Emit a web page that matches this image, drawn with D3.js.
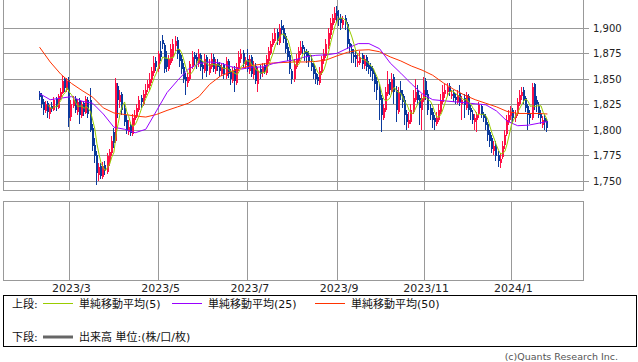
<!DOCTYPE html>
<html>
<head>
<meta charset="utf-8">
<script src="https://cdn.jsdelivr.net/npm/d3@7"></script>
<style>
  body { margin: 0; background: #fff; }
  svg { display: block; }
</style>
</head>
<body>
<svg id="chart" width="638" height="362"></svg>
<script>
// price axis ticks (yen)
const priceTicks = [1750, 1775, 1800, 1825, 1850, 1875, 1900];

// month gridlines: label + trading-day index of the first session of that month
const monthLabels = ["2023/3", "2023/5", "2023/7", "2023/9", "2023/11", "2024/1"];
const monthDays = [14, 56, 98, 140, 181, 222];

// daily candles [open, high, low, close], one per trading day
const candles = [
  [1837,1839,1830,1833],[1835,1837,1822,1826],[1828,1831,1815,1820],[1819,1829,1817,1826],[1827,1829,1812,1818],
  [1816,1825,1811,1822],[1824,1828,1818,1821],[1820,1833,1819,1830],[1831,1833,1819,1823],[1822,1836,1821,1834],
  [1833,1841,1830,1838],[1837,1853,1836,1848],[1850,1852,1838,1841],[1840,1851,1838,1848],[1849,1852,1803,1812],
  [1813,1830,1809,1826],[1824,1834,1822,1830],[1831,1834,1817,1820],[1818,1831,1815,1828],[1829,1832,1806,1815],
  [1814,1829,1812,1826],[1827,1829,1814,1818],[1817,1834,1816,1831],[1830,1833,1812,1816],[1830,1841,1798,1800],
  [1802,1806,1780,1785],[1786,1792,1768,1775],[1776,1780,1746,1758],[1756,1768,1750,1764],[1765,1768,1752,1755],
  [1754,1769,1752,1765],[1766,1770,1756,1760],[1759,1778,1757,1775],[1770,1782,1765,1779],[1778,1794,1775,1790],
  [1798,1802,1783,1788],[1790,1851,1788,1846],[1843,1846,1812,1830],[1828,1840,1822,1835],[1836,1838,1815,1820],
  [1822,1826,1804,1808],[1810,1815,1796,1800],[1798,1810,1795,1803],[1805,1808,1794,1797],[1796,1816,1794,1812],
  [1810,1820,1805,1815],[1814,1826,1812,1822],[1820,1834,1818,1830],[1832,1835,1822,1828],[1826,1840,1824,1836],
  [1835,1845,1832,1840],[1841,1849,1838,1845],[1843,1856,1840,1850],[1849,1862,1846,1858],[1856,1873,1853,1866],
  [1868,1872,1858,1862],[1860,1878,1857,1875],[1878,1888,1868,1872],[1889,1893,1880,1885],[1884,1886,1856,1860],
  [1870,1878,1857,1862],[1860,1874,1858,1870],[1866,1885,1864,1880],[1872,1890,1868,1885],[1883,1892,1878,1888],
  [1889,1891,1870,1875],[1876,1880,1862,1868],[1870,1874,1855,1860],[1862,1866,1846,1850],[1852,1856,1835,1848],
  [1846,1856,1842,1852],[1850,1868,1848,1865],[1862,1878,1860,1872],[1874,1877,1864,1870],[1872,1876,1860,1868],
  [1866,1880,1862,1875],[1874,1876,1858,1862],[1864,1868,1850,1860],[1858,1875,1856,1870],[1872,1874,1852,1858],
  [1856,1870,1854,1865],[1862,1876,1860,1870],[1872,1875,1857,1860],[1858,1870,1855,1865],[1866,1870,1858,1862],
  [1864,1867,1852,1858],[1855,1866,1853,1862],[1864,1866,1850,1855],[1853,1872,1850,1868],[1868,1870,1851,1855],
  [1857,1860,1844,1850],[1848,1862,1846,1858],[1860,1863,1838,1848],[1846,1866,1844,1862],[1860,1878,1858,1872],
  [1870,1880,1866,1875],[1876,1879,1862,1865],[1864,1872,1860,1868],[1870,1880,1857,1860],[1858,1874,1855,1870],
  [1872,1874,1852,1855],[1854,1868,1850,1862],[1863,1866,1845,1848],[1845,1862,1838,1858],[1860,1864,1850,1855],
  [1856,1866,1852,1862],[1864,1866,1855,1858],[1856,1874,1854,1870],[1868,1882,1866,1878],[1876,1888,1874,1885],
  [1884,1895,1882,1890],[1888,1900,1886,1895],[1896,1899,1884,1888],[1886,1904,1884,1900],[1902,1908,1894,1898],
  [1900,1903,1886,1890],[1892,1895,1876,1880],[1882,1886,1868,1872],[1874,1878,1855,1860],[1858,1860,1845,1850],
  [1850,1870,1847,1865],[1862,1875,1860,1870],[1868,1882,1866,1878],[1876,1888,1874,1882],[1884,1888,1875,1880],
  [1878,1882,1868,1875],[1877,1880,1866,1872],[1874,1878,1862,1868],[1866,1874,1858,1862],[1864,1866,1850,1855],
  [1856,1860,1845,1850],[1852,1855,1844,1848],[1846,1862,1844,1858],[1856,1873,1854,1870],[1868,1880,1865,1875],
  [1873,1890,1871,1885],[1883,1900,1880,1895],[1893,1910,1890,1905],[1903,1914,1898,1910],[1908,1921,1905,1915],
  [1917,1922,1906,1912],[1910,1918,1902,1908],[1910,1914,1898,1905],[1903,1912,1900,1908],[1910,1913,1898,1906],
  [1904,1906,1880,1885],[1886,1890,1876,1882],[1880,1885,1866,1876],[1874,1880,1866,1872],[1874,1878,1862,1870],
  [1866,1876,1862,1868],[1866,1878,1864,1872],[1874,1876,1860,1865],[1863,1874,1860,1870],[1872,1874,1858,1862],
  [1864,1868,1855,1860],[1862,1866,1852,1858],[1860,1863,1848,1855],[1856,1858,1838,1845],[1848,1852,1830,1840],
  [1842,1845,1810,1830],[1832,1835,1798,1815],[1812,1826,1810,1822],[1820,1842,1818,1838],[1836,1858,1834,1845],
  [1847,1850,1835,1840],[1838,1856,1836,1850],[1852,1855,1826,1838],[1840,1843,1808,1820],[1818,1842,1816,1838],
  [1840,1848,1830,1835],[1836,1840,1822,1828],[1830,1834,1805,1815],[1816,1820,1800,1808],[1806,1818,1802,1810],
  [1808,1826,1806,1820],[1818,1840,1816,1832],[1830,1850,1828,1838],[1840,1844,1826,1830],[1832,1835,1805,1822],
  [1820,1836,1800,1832],[1830,1852,1828,1840],[1848,1851,1830,1835],[1836,1840,1815,1820],[1822,1826,1810,1815],
  [1818,1822,1802,1810],[1812,1815,1800,1808],[1806,1818,1804,1812],[1810,1826,1808,1820],[1818,1836,1816,1830],
  [1828,1844,1826,1838],[1836,1845,1832,1840],[1838,1846,1834,1842],[1843,1846,1834,1838],[1834,1840,1831,1836],
  [1838,1840,1828,1832],[1833,1836,1826,1830],[1828,1840,1826,1835],[1837,1844,1824,1828],[1826,1834,1810,1830],
  [1832,1836,1812,1825],[1822,1838,1820,1835],[1834,1836,1815,1820],[1822,1825,1810,1818],[1816,1820,1806,1810],
  [1808,1816,1800,1812],[1810,1818,1798,1815],[1816,1828,1812,1825],[1824,1826,1812,1815],[1816,1818,1808,1812],
  [1813,1816,1800,1805],[1806,1808,1790,1795],[1798,1800,1784,1790],[1792,1795,1778,1782],[1780,1790,1776,1785],
  [1786,1790,1770,1775],[1776,1780,1764,1770],[1768,1778,1763,1772],[1774,1790,1772,1785],[1786,1800,1782,1795],
  [1796,1815,1794,1810],[1808,1820,1805,1815],[1814,1824,1810,1818],[1820,1822,1808,1812],[1812,1820,1808,1815],
  [1816,1832,1814,1828],[1826,1840,1824,1835],[1834,1842,1830,1838],[1840,1842,1826,1830],[1832,1834,1818,1822],
  [1824,1826,1800,1815],[1816,1820,1806,1812],[1812,1846,1810,1842],[1845,1846,1820,1825],[1830,1834,1818,1826],
  [1824,1828,1812,1815],[1816,1820,1806,1812],[1805,1814,1802,1810],[1812,1815,1800,1808],[1809,1812,1798,1802]
];

const smaDays = [0,5,10,15,20,25,30,35,40,45,50,55,60,65,70,75,80,85,90,95,100,105,110,115,120,
  125,130,135,140,145,150,155,160,165,170,175,180,185,190,195,200,205,210,215,220,225,230,235,239];
const sma25 = [1836,1830,1831.5,1833,1828.5,1826.5,1816,1803,1801,1797.6,1801,1819,1837,1849,1860,
  1865.5,1867,1866,1862.5,1860,1862,1862,1865.5,1867.5,1869,1872,1873.5,1874,1875.5,1880.5,1885,1885,
  1880,1866,1856,1845.5,1836,1830,1829,1828,1827,1826,1825,1819,1809,1804.5,1805,1807,1808.5];
const sma50 = [1881.5,1867,1855,1846,1839,1832.5,1822,1817,1815.5,1814,1813,1815.5,1819.5,1823,1826.5,
  1833,1845,1853,1857.5,1861,1863.5,1865,1866,1866.5,1867,1867,1867.5,1869,1873,1876.5,1878.5,1879,
  1877,1872,1868,1863,1859,1854,1846.5,1840,1834.5,1830,1826.5,1823,1818.5,1816.5,1816.5,1816.5,1816];

const legendTop = [
  { label: "単純移動平均(5)", color: "#99cc00", x: 43 },
  { label: "単純移動平均(25)", color: "#9900ff", x: 172 },
  { label: "単純移動平均(50)", color: "#ff3300", x: 315 }
];

const UP = "#ff1046";
const DOWN = "#0b3a9c";
const GRID = "#999999";
const FONT = "'DejaVu Sans', 'Noto Sans CJK JP', sans-serif";

const svg = d3.select("#chart");

const panel = { left: 3.5, right: 583.5, top: -1, bottom: 190.5 };
const lower = { top: 201.5, bottom: 280.5 };

const x = d3.scaleLinear().domain([14, 222]).range([69.3, 511.3]);
const y = d3.scaleLinear().domain([1750, 1900]).range([181.3, 28.3]);
const snap = v => Math.round(v - 0.5) + 0.5;

/** GRID */
const grid = svg.append("g").attr("shape-rendering", "crispEdges");

grid.selectAll("line.h")
  .data(priceTicks)
  .join("line")
  .attr("class", "h")
  .attr("x1", panel.left)
  .attr("x2", panel.right + 5)
  .attr("y1", d => snap(y(d)))
  .attr("y2", d => snap(y(d)))
  .attr("stroke", GRID);

grid.selectAll("line.v")
  .data(monthDays)
  .join("line")
  .attr("class", "v")
  .attr("x1", d => snap(x(d)))
  .attr("x2", d => snap(x(d)))
  .attr("y1", panel.top)
  .attr("y2", panel.bottom)
  .attr("stroke", GRID);

grid.selectAll("line.vl")
  .data(monthDays)
  .join("line")
  .attr("class", "vl")
  .attr("x1", d => snap(x(d)))
  .attr("x2", d => snap(x(d)))
  .attr("y1", lower.top)
  .attr("y2", lower.bottom)
  .attr("stroke", GRID);

grid.append("rect")
  .attr("x", panel.left)
  .attr("y", panel.top)
  .attr("width", panel.right - panel.left)
  .attr("height", panel.bottom - panel.top)
  .attr("fill", "none")
  .attr("stroke", GRID);

grid.append("rect")
  .attr("x", panel.left)
  .attr("y", lower.top)
  .attr("width", panel.right - panel.left)
  .attr("height", lower.bottom - lower.top)
  .attr("fill", "none")
  .attr("stroke", GRID);

/** CANDLES */
const bars = svg.append("g").attr("shape-rendering", "crispEdges");
const color = d => (d[3] > d[0] ? UP : DOWN);

bars.selectAll("rect.wick")
  .data(candles)
  .join("rect")
  .attr("class", "wick")
  .attr("x", (d, i) => Math.round(x(i)) - 1)
  .attr("width", 1)
  .attr("y", d => y(d[1]))
  .attr("height", d => y(d[2]) - y(d[1]))
  .attr("fill", color);

bars.selectAll("rect.body")
  .data(candles)
  .join("rect")
  .attr("class", "body")
  .attr("x", (d, i) => Math.round(x(i)) - 1)
  .attr("width", 2)
  .attr("y", d => y(Math.max(d[0], d[3])))
  .attr("height", d => Math.max(1, Math.abs(y(d[0]) - y(d[3]))))
  .attr("fill", color);

/** MOVING AVERAGES */
const closes = candles.map(d => d[3]);
const sma5 = closes
  .map((c, i) => (i < 4 ? null : [i, d3.mean(closes.slice(i - 4, i + 1))]))
  .filter(d => d);

const line = d3.line().x(d => x(d[0])).y(d => y(d[1]));

svg.append("path")
  .datum(smaDays.map((d, i) => [d, sma50[i]]))
  .attr("d", line)
  .attr("fill", "none")
  .attr("stroke", "#ff3300")
  .attr("stroke-width", 1);

svg.append("path")
  .datum(smaDays.map((d, i) => [d, sma25[i]]))
  .attr("d", line)
  .attr("fill", "none")
  .attr("stroke", "#9900ff")
  .attr("stroke-width", 1);

svg.append("path")
  .datum(sma5)
  .attr("d", line)
  .attr("fill", "none")
  .attr("stroke", "#99cc00")
  .attr("stroke-width", 1);

/** AXIS LABELS */
svg.append("g")
  .selectAll("text")
  .data(priceTicks)
  .join("text")
  .attr("x", 593)
  .attr("y", d => y(d))
  .attr("dy", "0.35em")
  .attr("font-family", FONT)
  .attr("font-size", 10)
  .attr("fill", "#222")
  .text(d => d3.format(",")(d));

svg.append("g")
  .selectAll("text")
  .data(monthDays)
  .join("text")
  .attr("x", d => x(d) + 2)
  .attr("y", 292)
  .attr("text-anchor", "middle")
  .attr("font-family", FONT)
  .attr("font-size", 11)
  .attr("fill", "#222")
  .text((d, i) => monthLabels[i]);

/** LEGEND */
const legend = svg.append("g").attr("font-family", FONT).attr("font-size", 11).attr("fill", "#111");

legend.append("rect")
  .attr("x", 3.5)
  .attr("y", 295.5)
  .attr("width", 633)
  .attr("height", 51)
  .attr("fill", "none")
  .attr("stroke", "#000")
  .attr("shape-rendering", "crispEdges");

legend.append("text").attr("x", 12).attr("y", 307.5).text("上段:");
legendTop.forEach(d => {
  legend.append("line")
    .attr("x1", d.x).attr("x2", d.x + 30)
    .attr("y1", 303.5).attr("y2", 303.5)
    .attr("stroke", d.color)
    .attr("shape-rendering", "crispEdges");
  legend.append("text").attr("x", d.x + 36).attr("y", 307.5).text(d.label);
});

legend.append("text").attr("x", 12).attr("y", 341).text("下段:");
legend.append("line")
  .attr("x1", 43).attr("x2", 73)
  .attr("y1", 337).attr("y2", 337)
  .attr("stroke", "#666")
  .attr("stroke-width", 3);
legend.append("text").attr("x", 79).attr("y", 341).text("出来高 単位:(株/口/枚)");

svg.append("text")
  .attr("x", 618)
  .attr("y", 360)
  .attr("text-anchor", "end")
  .attr("font-family", FONT)
  .attr("font-size", 9.5)
  .attr("fill", "#555")
  .text("(c)Quants Research Inc.");
</script>
</body>
</html>
